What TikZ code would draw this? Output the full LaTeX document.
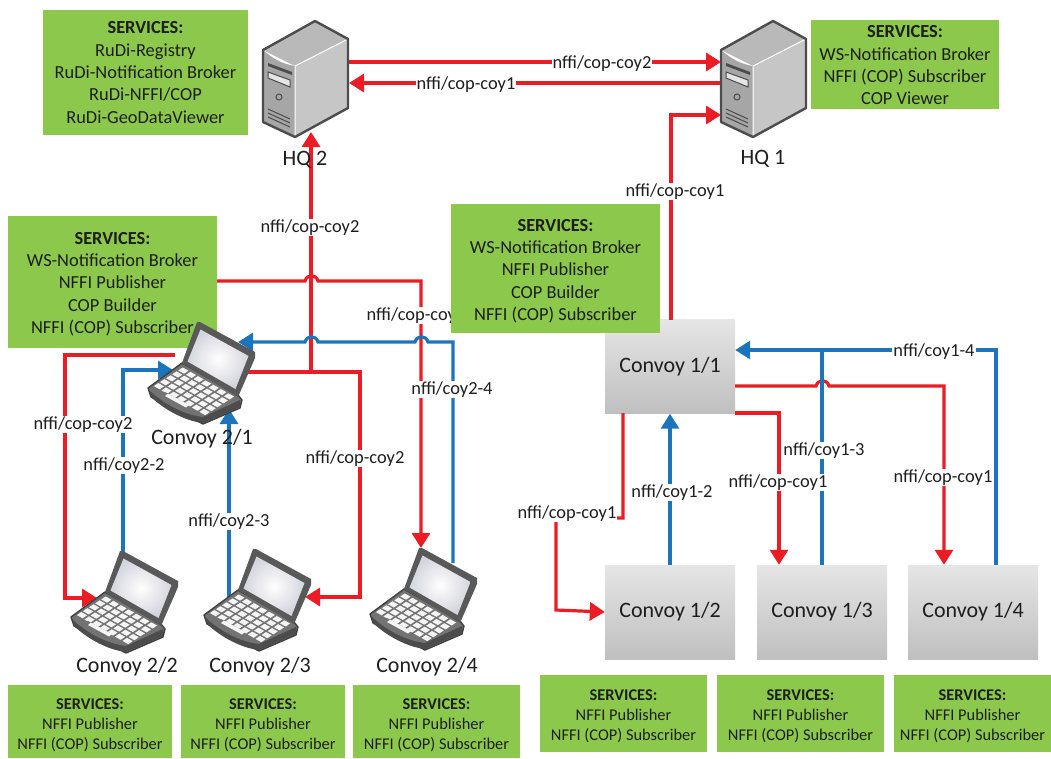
\documentclass[tikz,border=0pt]{standalone}
\usepackage{fontspec}
\setmainfont{Carlito}
\usetikzlibrary{arrows.meta,calc}
\definecolor{grn}{RGB}{140,200,75}
\definecolor{rd}{RGB}{236,28,36}
\definecolor{bl}{RGB}{28,117,188}
\definecolor{ink}{RGB}{30,30,30}
\tikzset{
  x=1pt,y=-1pt,
  tip/.style={-{Triangle[length=15pt,width=18pt]}},
  redline/.style={draw=rd,line width=3.2pt,line join=miter},
  blueline/.style={draw=bl,line width=3.2pt,line join=miter},
  flow/.style={font=\fontsize{18.4}{18.4}\selectfont,text=ink,fill=white,inner sep=1pt,yshift=-1.5pt},
  svc/.style={fill=grn,draw=none,align=center,text=ink,inner sep=0pt,font=\fontsize{18.4}{22.3}\selectfont},
  svcsmall/.style={fill=grn,draw=none,align=center,text=ink,inner sep=0pt,font=\fontsize{16.4}{20}\selectfont},
  caption/.style={font=\fontsize{22}{22}\selectfont,text=ink},
  convoybox/.style={draw=none,minimum width=130pt,minimum height=94pt,inner sep=0pt,
     top color=gray!20!white,bottom color=gray!50!white,text=ink,font=\fontsize{22}{22}\selectfont},
  area/.style={draw=none,inner sep=0pt},
  laptop/.pic={
    % base
    \fill[gray!90!black,draw=black!75,line width=1.4pt,line join=round]
       (148,388)--(182,363)--(238,395)--(242,400)--(240,408)--(203,424)--(151,397)--cycle;
    \fill[gray!60!black] (150,391) .. controls (165,405) and (185,415) .. (203,417) -- (240,400) -- (240,407) -- (203,423) .. controls (185,421) and (165,410) .. (151,397) --cycle;
    % keys
    \foreach \r in {0,...,4}{\foreach \c in {0,...,6}{
      \pgfmathsetmacro\kx{182.5+(\c+.12)*7.6+(\r+.12)*(-6.1)}
      \pgfmathsetmacro\ky{366.5+(\c+.12)*4.3+(\r+.12)*3.9}
      \fill[white!92!gray] (\kx,\ky)--(\kx+5.8,\ky+3.2)--(\kx+1.4,\ky+6.2)--(\kx-4.4,\ky+3)--cycle;
    }}
    \fill[gray!90!black] (165,392)--(187,404)--(184,409)--(160,396)--cycle;
    \fill[white!92!gray] (168,393.5)--(189,405)--(186,407.5)--(165,396)--cycle;
    % screen
    \fill[black!65,line join=round] (182,363)--(197,322)--(200,322)--(255,352)--(255,358)--(238,397)--cycle;
    \fill[gray!70!black] (185,362.5)--(199,326.5)--(251.5,355.5)--(237,393)--cycle;
    \shade[inner color=white,outer color=blue!12!gray!30!white] (187.5,361.5)--(200.5,329.5)--(248.5,356)--(235.5,389)--cycle;
  },
  tower/.pic={
    \fill[gray!55!white] (263,50)--(315,21)--(348,39)--(295,66)--cycle;
    \fill[gray!70!white] (263,50) .. controls (272,58) and (282,64) .. (295,66)--(295,137)--(263,122)--cycle;
    \fill[gray!45!white] (295,66)--(348,39)--(348,108)--(295,137)--cycle;
    \draw[white,line width=1pt] (295,66)--(348,39) (295,66)--(295,137);
    \draw[black!70,line width=2.4pt,line join=round] (263,50)--(315,21)--(348,39)--(348,108)--(295,137)--(263,122)--cycle;
    \fill[black!70] (268,63)--(292,72)--(292,75)--(268,66)--cycle;
    \draw[black!70,fill=gray!20,line width=1pt] (268,72)--(290,80)--(290,87)--(268,78)--cycle;
    \draw[black!70,line width=1pt] (279,97) circle (3);
    \draw[black!70,line width=1pt] (268,109)--(290,119) (268,113)--(290,123) (268,117)--(290,127);
  }
}
\begin{document}
\begin{tikzpicture}
\useasboundingbox (0,0) rectangle (1051,758);
% device areas (named, drawn later)
\node[area,minimum width=85pt,minimum height=116pt] (hq2) at (305.5,79) {};
\node[area,minimum width=85pt,minimum height=116pt] (hq1) at (763.5,79) {};
\node[area,minimum width=106pt,minimum height=102pt] (lap1) at (201,373) {};
\node[area,minimum width=106pt,minimum height=102pt] (lap2) at (124,602) {};
\node[area,minimum width=106pt,minimum height=102pt] (lap3) at (257,600) {};
\node[area,minimum width=106pt,minimum height=102pt] (lap4) at (423,599) {};
\node[convoybox] (c11) at (670,366.5) {\raisebox{-1.5pt}{Convoy 1/1}};
\node[convoybox] (c12) at (670,612) {\raisebox{-1.5pt}{Convoy 1/2}};
\node[convoybox] (c13) at (822,612) {\raisebox{-1.5pt}{Convoy 1/3}};
\node[convoybox] (c14) at (973,612) {\raisebox{-1.5pt}{Convoy 1/4}};
% ports and bends
\foreach \n/\x/\y in {
 a1/348/62, a2/721/62, b1/721/83, b2/349/83,
 d1/671/320, d2/671/115, d3/721/115,
 e1/311/372, e2/311/132,
 f1/247/372, f2/360/372, f3/360/597, f4/305/597,
 g1/217/281, g2/305/281, g3/318/281, g4/421/281, g5/421/548,
 h1/453/563, h2/453/342, h3/428/342, h4/415/342, h5/318/342, h6/305/342, h7/238/342,
 i1/175/355, i2/65/355, i3/65/598, i4/97/598,
 j1/123/552, j2/123/370, j3/173/370,
 k1/229/597, k2/229/409,
 m1/623/413, m2/623/518, m3/556/518, m4/556/610,
 n1/735/413, n2/779/413,
 o1/735/386, o2/816/386, o3/829/386, o4/944/386,
 q1/996/565, q2/996/350, q3/822/350}
 {\coordinate (\n) at (\x,\y);}
% red connectors
\draw[redline,tip] (a1)--(a2);
\draw[redline,tip] (b1)--(b2);
\draw[redline,tip] (d1)--(d2)--(d3);
\draw[redline,tip] (e1)--(e2);
\draw[redline,tip] (f1)--(f2)--(f3)--(f4);
\draw[redline,tip] (g1)--(g2) .. controls ($(g2)+(2,-7)$) and ($(g3)+(-2,-7)$) .. (g3)--(g4)--(g5);
\draw[redline,tip] (i1)--(i2)--(i3)--(i4);
\draw[redline,tip] (m1)--(m2)--(m3)--(m4)--(c12.west);
\draw[redline,tip] (n1)--(n2)--(c13.north -| n2);
\draw[redline,tip] (o1)--(o2) .. controls ($(o2)+(2,-7)$) and ($(o3)+(-2,-7)$) .. (o3)--(o4)--(c14.north -| o4);
% blue connectors
\draw[blueline,tip] (h1)--(h2)--(h3) .. controls ($(h3)+(-2,-7)$) and ($(h4)+(2,-7)$) .. (h4)--(h5) .. controls ($(h5)+(-2,-7)$) and ($(h6)+(2,-7)$) .. (h6)--(h7);
\draw[blueline,tip] (j1)--(j2)--(j3);
\draw[blueline,tip] (k1)--(k2);
\draw[blueline,tip] (c12.north)--(c11.south);
\draw[blueline] (c13.north)--(q3);
\draw[blueline,tip] (q1)--(q2)--(c11.east |- q2);
% connector labels
\node[flow] (l1) at (602,62) {nffi/cop-coy2};
\node[flow] (l2) at (466,83) {nffi/cop-coy1};
\node[flow] (l3) at (675,190) {nffi/cop-coy1};
\node[flow] (l4) at (310,226) {nffi/cop-coy2};
\node[flow] (l5) at (416,314) {nffi/cop-coy2};
\node[flow] (l6) at (452,388) {nffi/coy2-4};
\node[flow] (l7) at (83,423) {nffi/cop-coy2};
\node[flow] (l8) at (124,464) {nffi/coy2-2};
\node[flow] (l9) at (355,457) {nffi/cop-coy2};
\node[flow] (l10) at (229,520) {nffi/coy2-3};
\node[flow] (l11) at (567,512) {nffi/cop-coy1};
\node[flow] (l12) at (672,491) {nffi/coy1-2};
\node[flow] (l13) at (778,481) {nffi/cop-coy1};
\node[flow] (l14) at (824,449) {nffi/coy1-3};
\node[flow] (l15) at (943,476) {nffi/cop-coy1};
\node[flow] (l16) at (934,350) {nffi/coy1-4};
% service boxes
\node[svc,minimum width=205pt,minimum height=125pt] (s1) at (145.5,72.5) {\textbf{SERVICES:}\\RuDi-Registry\\RuDi-Notification Broker\\RuDi-NFFI/COP\\RuDi-GeoDataViewer};
\node[svc,minimum width=188pt,minimum height=89pt] (s2) at (905,64) {\rule{0pt}{15pt}\textbf{SERVICES:}\\WS-Notification Broker\\NFFI (COP) Subscriber\\COP Viewer};
\node[svc,minimum width=209pt,minimum height=132pt] (s3) at (112.5,282) {\rule{0pt}{16pt}\textbf{SERVICES:}\\WS-Notification Broker\\NFFI Publisher\\COP Builder\\NFFI (COP) Subscriber};
\node[svc,minimum width=209pt,minimum height=129pt] (s4) at (555.5,268.5) {\rule{0pt}{17pt}\textbf{SERVICES:}\\WS-Notification Broker\\NFFI Publisher\\COP Builder\\NFFI (COP) Subscriber};
\node[svcsmall,minimum width=164pt,minimum height=73pt] (s5) at (90,721.5) {\rule{0pt}{18pt}\textbf{SERVICES:}\\NFFI Publisher\\NFFI (COP) Subscriber};
\node[svcsmall,minimum width=164pt,minimum height=73pt] (s6) at (263,721.5) {\rule{0pt}{18pt}\textbf{SERVICES:}\\NFFI Publisher\\NFFI (COP) Subscriber};
\node[svcsmall,minimum width=167pt,minimum height=73pt] (s7) at (436.5,721.5) {\rule{0pt}{18pt}\textbf{SERVICES:}\\NFFI Publisher\\NFFI (COP) Subscriber};
\node[svcsmall,minimum width=167pt,minimum height=77pt] (s8) at (623.5,713.5) {\rule{0pt}{16pt}\textbf{SERVICES:}\\NFFI Publisher\\NFFI (COP) Subscriber};
\node[svcsmall,minimum width=167pt,minimum height=77pt] (s9) at (800.5,713.5) {\rule{0pt}{16pt}\textbf{SERVICES:}\\NFFI Publisher\\NFFI (COP) Subscriber};
\node[svcsmall,minimum width=157pt,minimum height=77pt] (s10) at (972.5,713.5) {\rule{0pt}{16pt}\textbf{SERVICES:}\\NFFI Publisher\\NFFI (COP) Subscriber};
% device icons
\pic at (0,0) {tower};
\pic at (458,0) {tower};
\pic at (0,0) {laptop};
\pic at (-77,229) {laptop};
\pic at (56,227) {laptop};
\pic at (222,226) {laptop};
% captions
\node[caption] (t1) at (305,160) {HQ 2};
\node[caption] (t2) at (763,159) {HQ 1};
\node[caption] (t3) at (202,439) {Convoy 2/1};
\node[caption] (t4) at (127,667) {Convoy 2/2};
\node[caption] (t5) at (260,667) {Convoy 2/3};
\node[caption] (t6) at (427,667) {Convoy 2/4};
\end{tikzpicture}
\end{document}
